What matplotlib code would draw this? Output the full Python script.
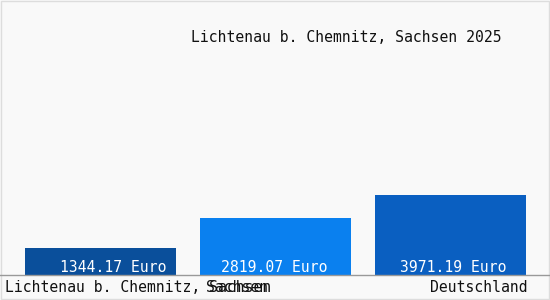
import matplotlib
matplotlib.use('Agg')
import matplotlib.pyplot as plt
from matplotlib.patches import Rectangle

title = "Lichtenau b. Chemnitz, Sachsen 2025"
values = [1344.17, 2819.07, 3971.19]
bar_colors = ['#0a4f9b', '#0a80ef', '#0a5fc1']
value_labels = [f'{v:.2f} Euro' for v in values]
bottom_labels = ["Lichtenau b. Chemnitz, Sachsen", "Sachsen", "Deutschland"]

FONT = 'DejaVu Sans Mono'
BG = '#f9f9f9'

fig = plt.figure(figsize=(5.5, 3), dpi=100, facecolor=BG)
ax = fig.add_axes([0, 25 / 300, 1, 275 / 300])
ax.set_facecolor(BG)

# pixel layout: bar centres 175 px apart, first at 100.5 px
px = 175.0
x = list(range(len(values)))
ax.bar(x, values, width=151 / px, color=bar_colors, edgecolor='none')
ax.set_xlim(-100.5 / px, (550 - 100.5) / px)
ax.set_ylim(0, 275 * 49.6)
ax.axis('off')

# value labels sit a little off-centre in the original
label_shift = [13, -1, 3]
for xi, lab, dx in zip(x, value_labels, label_shift):
    ax.text(xi + dx / px, 49.6 * 7, lab, ha='center', va='center', color='white',
            fontsize=10.6, family=FONT)

# baseline
fig.add_artist(plt.Line2D([0, 1], [25 / 300, 25 / 300], color='#999999', lw=1))

fig.text(346 / 550, 1 - 38 / 300, title, ha='center', va='center',
         fontsize=10.6, family=FONT, color='#111111')

fig.text(5 / 550, 1 - 288 / 300, bottom_labels[0], ha='left', va='center',
         fontsize=10.6, family=FONT, color='#111111')
fig.text(237 / 550, 1 - 288 / 300, bottom_labels[1], ha='center', va='center',
         fontsize=10.6, family=FONT, color='#111111')
fig.text(528 / 550, 1 - 288 / 300, bottom_labels[2], ha='right', va='center',
         fontsize=10.6, family=FONT, color='#111111')

# thin frame round the picture
fig.add_artist(Rectangle((1 / 550, 1 / 300), 548 / 550, 298 / 300,
                         transform=fig.transFigure, fill=False,
                         edgecolor='#dddddd', lw=1))

plt.savefig('out.png', dpi=100, facecolor=BG)
plt.close()
